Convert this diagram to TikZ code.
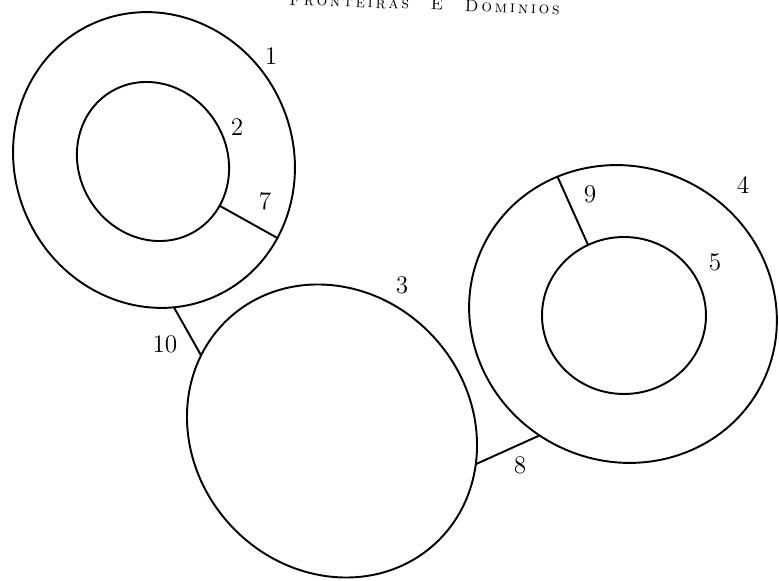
\documentclass[tikz,border=0pt]{standalone}
\usepackage{tikz}
\usetikzlibrary{shapes.geometric}
\tikzset{
  region/.style={
    draw,
    ellipse,
    line width=1.1pt,
    inner sep=0pt,
    outer sep=0pt
  },
  cut/.style={line width=1.1pt},
  num/.style={inner sep=1pt, font=\Large}
}

\begin{document}
\begin{tikzpicture}[x=0.02cm, y=-0.02cm]
        \clip (0,0) rectangle (779,581);
        \node[anchor=base east, rotate=-2, inner sep=0pt, font=\fontsize{9.5}{11}\selectfont] (head) at (560,14.5)
          {\textsc{F\,r\,o\,n\,t\,e\,i\,r\,a\,s\hspace{1.3em}E\hspace{1.3em}D\,o\,m\,i\,n\,i\,o\,s}};
        \node[region, minimum width=5.57cm, minimum height=5.98cm, rotate=23.7] (r1) at (154,160) {};
        \node[region, minimum width=3.26cm, minimum height=2.96cm, rotate=-58.6] (r2) at (153,161.5) {};
        \node[region, minimum width=6.11cm, minimum height=5.54cm, rotate=-48] (r3) at (332,431) {};
        \node[region, minimum width=6.22cm, minimum height=5.89cm, rotate=-26.5] (r4) at (623,314) {};
        \node[region, minimum width=3.28cm, minimum height=3.14cm] (r5) at (624,315.5) {};
        \node[num] (l1) at (271,56) {1};
        \node[num] (l2) at (237,127) {2};
        \node[num] (l3) at (402,285) {3};
        \node[num] (l4) at (743,185) {4};
        \node[num] (l5) at (715,262) {5};
        \node[num] (l7) at (265,201) {7};
        \node[num] (l8) at (520,465) {8};
        \node[num] (l9) at (590,194) {9};
        \node[num] (l10) at (165,344) {10};
        \draw[cut] (r2.25.5) -- (r1.-56.6);
        \draw[cut] (r1.-106.8) -- (r3.198.4);
        \draw[cut] (r3.35.4) -- (r4.-98.1);
        \draw[cut] (r4.142.3) -- (r5.117.4);
      \end{tikzpicture}
\end{document}
